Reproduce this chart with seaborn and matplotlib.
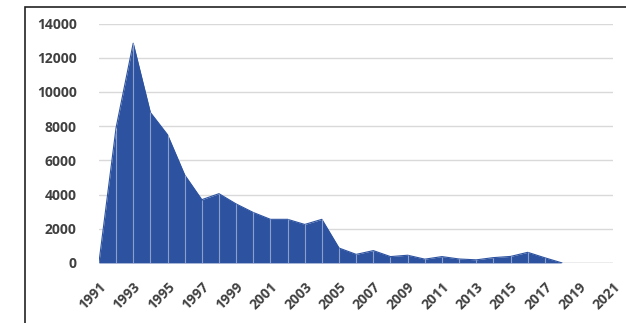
#!/usr/bin/env python3

import numpy as np
import pandas as pd
import matplotlib.pyplot as plt
import seaborn as sns
from matplotlib.patches import Rectangle

years = list(range(1991, 2022))
counts = [0, 7900, 12850, 8800, 7500, 5150, 3700, 4050, 3450, 2950,
          2550, 2550, 2250, 2550, 870, 500, 720, 370, 450, 220,
          370, 230, 180, 310, 380, 620, 300, 0, 0, 0, 0]
ytick_values = [0, 2000, 4000, 6000, 8000, 10000, 12000, 14000]
xtick_labels = [str(y) for y in range(1991, 2022, 2)]


def plot_dataset(df):
    sns.set_style("white")
    plt.rcParams['font.family'] = ['Open Sans', 'DejaVu Sans']
    fig = plt.figure(figsize=(6.26, 3.23), dpi=100)
    ax = fig.add_axes([0.158, 0.186, 0.822, 0.741])

    fill = '#2D52A0'
    ax.fill_between(df['Year'], df['Count'], 0, color=fill, lw=0, zorder=2)
    # outline only where there is data (the tail sits on the axis)
    sns.lineplot(data=df.iloc[:28], x='Year', y='Count', ax=ax, color=fill,
                 lw=0.8, zorder=3)
    # thin white separators at each year, as in the original
    ax.vlines(df['Year'][1:-1], 0, df['Count'][1:-1], color='white', lw=0.8,
              alpha=0.45, zorder=4)

    ax.set_xlim(1991, 2021)
    ax.set_ylim(0, 14000)
    ax.set_yticks(ytick_values)
    ax.set_yticklabels([str(v) for v in ytick_values])
    ax.set_xticks(range(1991, 2022, 2))
    ax.set_xticklabels(xtick_labels, rotation=45, ha='right',
                       rotation_mode='anchor')
    ax.yaxis.grid(True, color='#d9d9d9', lw=1, zorder=0)
    ax.set_axisbelow(True)
    for s in ax.spines.values():
        s.set_visible(False)
    ax.axhline(0, color='#bfbfbf', lw=1, zorder=1)
    ax.tick_params(axis='both', length=0, labelsize=10, colors='#404040')
    ax.tick_params(axis='y', pad=16)
    ax.tick_params(axis='x', pad=12)
    for lab in ax.get_xticklabels() + ax.get_yticklabels():
        lab.set_fontweight('bold')
    ax.set(xlabel='', ylabel='')

    # chart border
    fig.patches.append(Rectangle((25 / 626, -0.1), 1.2, 1 - 7 / 323 + 0.1,
                                 transform=fig.transFigure, fill=False,
                                 edgecolor='#222222', lw=1.2))
    plt.savefig('out.png', dpi=100)


def main():
    df = pd.DataFrame({'Year': years, 'Count': counts})
    df.pipe(plot_dataset)


if __name__ == "__main__":
    main()
